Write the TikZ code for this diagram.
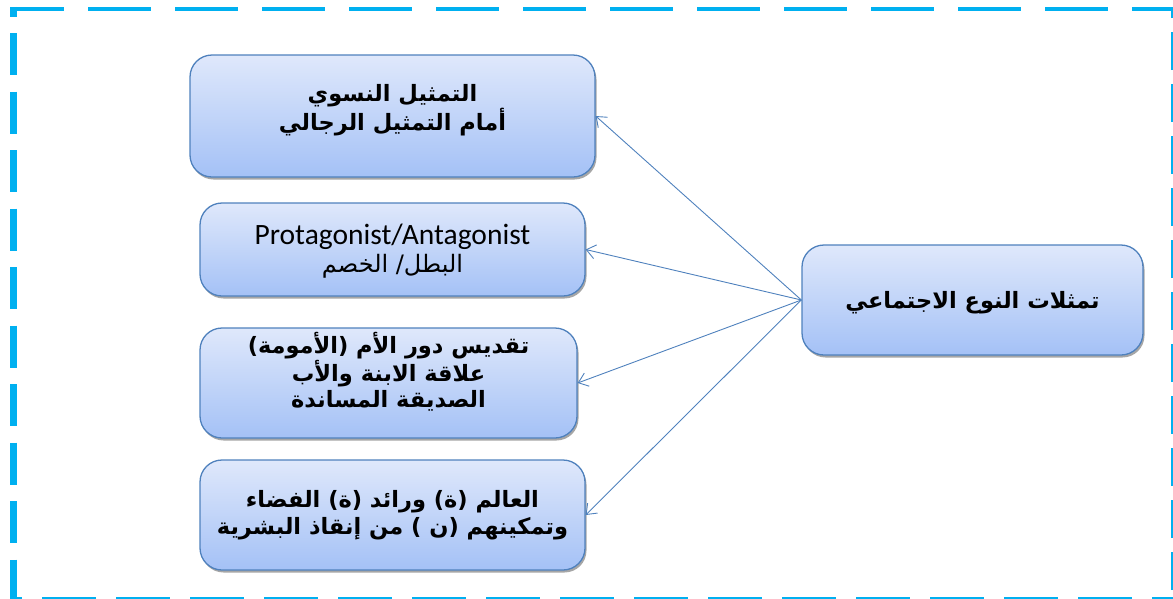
\documentclass[tikz,border=0pt]{standalone}
\usepackage{fontspec}
\setmainfont{Liberation Sans}
\newfontfamily\arabicfont[Script=Arabic]{DejaVu Sans}
\newfontfamily\latinfont{Carlito}
\TeXXeTstate=1
\usetikzlibrary{arrows.meta,shadows}
\definecolor{framecyan}{HTML}{00B0F0}
\definecolor{edgeblue}{HTML}{4F81BD}
\definecolor{shtop}{HTML}{DFE8FB}
\definecolor{shbot}{HTML}{A4C1F6}
% one right-to-left line of Arabic
\newcommand\artext[1]{{\arabicfont\beginR #1\endR}}

\begin{document}
\begin{tikzpicture}[x=1pt,y=-1pt,
  card/.style={draw=edgeblue, line width=1.3pt, rounded corners=22pt,
    top color=shtop, bottom color=shbot, inner sep=0pt,
    drop shadow={shadow xshift=1.5pt, shadow yshift=-2.5pt, opacity=0.35, fill=black}},
  lbl/.style={align=center, text=black,
    font=\arabicfont\bfseries\fontsize{22.5}{26.5}\selectfont},
  lblmix/.style={align=center, text=black,
    font=\arabicfont\fontsize{24}{28}\selectfont},
  link/.style={draw=edgeblue, line width=0.9pt,
    -{Straight Barb[length=9pt,width=14pt]}},
  frameline/.style={draw=framecyan, line cap=butt}
]
\useasboundingbox (0,0) rectangle (1173,598);

% dashed outer frame, one edge at a time
\draw[frameline, line width=4.5pt, dash pattern=on 63pt off 24pt, dash phase=9pt]
  (10,9) -- (1180,9);
\draw[frameline, line width=7pt, dash pattern=on 42pt off 16.5pt, dash phase=32.25pt]
  (13.5,6.75) -- (13.5,605);
\draw[frameline, line width=7pt, dash pattern=on 38pt off 14pt, dash phase=26.75pt]
  (1174,6.75) -- (1174,605);
\draw[frameline, line width=4.5pt, dash pattern=on 54pt off 20pt, dash phase=42pt]
  (10,599.5) -- (1180,599.5);

% boxes
\node[card, minimum width=405pt, minimum height=122pt] (b1) at (392.5,116) {};
\node[card, minimum width=385pt, minimum height=93pt]  (b2) at (392.5,249.5) {};
\node[card, minimum width=377pt, minimum height=110pt] (b3) at (388.5,383) {};
\node[card, minimum width=385pt, minimum height=110pt] (b4) at (392.5,515) {};
\node[card, minimum width=341pt, minimum height=110pt] (rb) at (972.5,300) {};

% texts
\node[lbl] (t1) at (392.5,110) {\artext{التمثيل النسوي}\\\artext{أمام التمثيل الرجالي}};
\node[lblmix] (t2) at (392.5,251)
  {{\latinfont\fontsize{29.5}{28}\selectfont Protagonist/Antagonist}\\\artext{البطل/ الخصم}};
\node[lbl] (t3) at (388.5,372)
  {\artext{تقديس دور الأم (الأمومة)}\\\artext{علاقة الابنة والأب}\\\artext{الصديقة المساندة}};
\node[lbl] (t4) at (392.5,515)
  {\artext{العالم (ة) ورائد (ة) الفضاء}\\\artext{وتمكينهم (ن ) من  إنقاذ البشرية}};
\node[lbl] (tr) at (972.5,303) {\artext{تمثلات النوع الاجتماعي}};

% connectors
\draw[link] (rb.west) -- (b1.east);
\draw[link] (rb.west) -- (b2.east);
\draw[link] (rb.west) -- (b3.east);
\draw[link] (rb.west) -- (b4.east);
\end{tikzpicture}
\end{document}
